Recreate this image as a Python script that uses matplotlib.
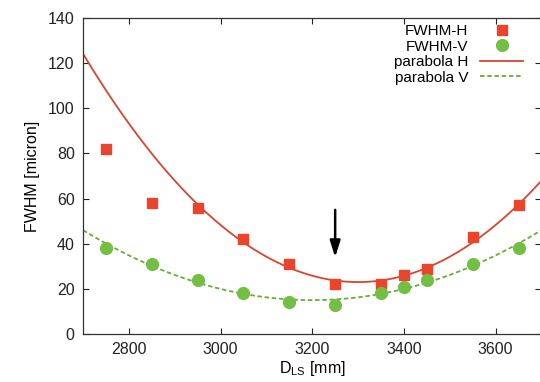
import numpy as np
import matplotlib
matplotlib.use('Agg')
import matplotlib.pyplot as plt

# measured FWHM vs distance
d_ls = [2750, 2850, 2950, 3050, 3150, 3250, 3350, 3400, 3450, 3550, 3650]
fwhm_h = [82, 58, 56, 42, 31, 22, 22, 26, 29, 43, 57]
fwhm_v = [38, 31, 24, 18, 14, 13, 18, 21, 24, 31, 38]

# parabola parameters: y = a*(x - x0)**2 + c
par_h = (2.81e-4, 3300, 23.0)
par_v = (1.24e-4, 3200, 15.0)

x_range = (2700, 3700)
y_range = (0, 140)
xticks = [2800, 3000, 3200, 3400, 3600]
yticks = [0, 20, 40, 60, 80, 100, 120, 140]
arrow_x = 3250
arrow_y = (55, 34)

red = '#e8452c'
red_line = '#d9452f'
green = '#72bf44'
green_line = '#6aad3c'

plt.rcParams['font.family'] = ['Liberation Sans', 'DejaVu Sans']
plt.rcParams['mathtext.fontset'] = 'custom'
plt.rcParams['mathtext.rm'] = 'Liberation Sans'
plt.rcParams['font.size'] = 11


def parabola(x, p):
    a, x0, c = p
    return a * (x - x0) ** 2 + c


fig = plt.figure(figsize=(5.4, 3.82), dpi=100)
ax = fig.add_axes([0.1537, 0.1257, 0.849, 0.8272])

xs = np.linspace(x_range[0], x_range[1], 300)
ax.plot(d_ls, fwhm_h, 's', color=red, ms=7, label='FWHM-H', zorder=3)
ax.plot(d_ls, fwhm_v, 'o', color=green, ms=8.5, label='FWHM-V', zorder=3)
ax.plot(xs, parabola(xs, par_h), '-', color=red_line, lw=1.3, label='parabola H')
ax.plot(xs, parabola(xs, par_v), '--', color=green_line, lw=1.3,
        dashes=(2.5, 1.5), label='parabola V')

ax.annotate('', xy=(arrow_x, arrow_y[1]), xytext=(arrow_x, arrow_y[0]),
            arrowprops=dict(arrowstyle='-|>,head_width=0.22,head_length=0.7',
                            color='black', lw=1.8,
                            mutation_scale=14, shrinkA=0, shrinkB=0))

ax.set_xlim(*x_range)
ax.set_ylim(*y_range)
ax.set_xticks(xticks)
ax.set_yticks(yticks)
ax.tick_params(direction='in', top=True, right=True, length=4, width=0.8,
               labelsize=11.5, pad=6, colors='#222222')
for s in ax.spines.values():
    s.set_linewidth(0.9)
    s.set_color('#333333')

ax.set_xlabel(r'D$_{\rm LS}$ [mm]', fontsize=11.5, labelpad=1)
ax.set_ylabel('FWHM [micron]', fontsize=11.5, labelpad=6)

ax.legend(loc='upper right', bbox_to_anchor=(0.98, 1.01), frameon=False,
          markerfirst=False, handlelength=2.8, handletextpad=0.8,
          labelspacing=0.1, borderaxespad=0.2, fontsize=11)

fig.savefig('out.png', dpi=100)
